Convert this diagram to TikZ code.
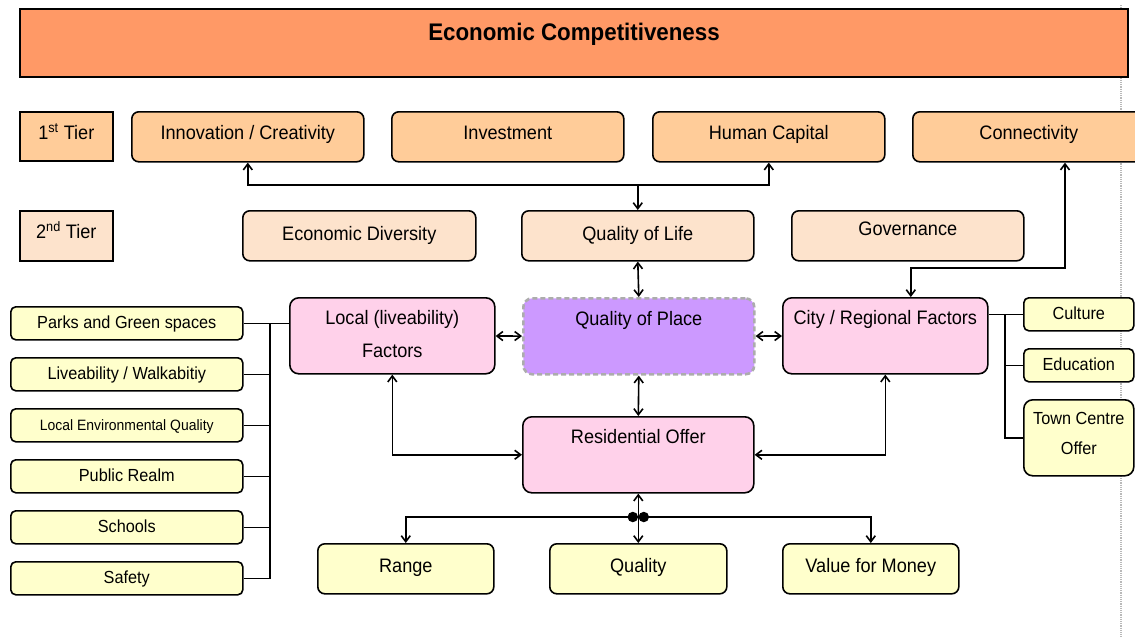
\documentclass[tikz,border=0pt]{standalone}
\usepackage{fontspec}
\setmainfont[FakeStretch=0.93]{Liberation Sans}
\usepackage{tikz}
\usetikzlibrary{arrows.meta}
\usepackage{xcolor}
\definecolor{bannerfill}{HTML}{FF9966}
\definecolor{tierfill}{HTML}{FFCC99}
\definecolor{secondfill}{HTML}{FDE3CC}
\definecolor{factorfill}{HTML}{FFD1EA}
\definecolor{placefill}{HTML}{CC99FF}
\definecolor{offerfill}{HTML}{FFFFCC}

\begin{document}
\begin{tikzpicture}[x=1pt,y=-1pt,
  >={Straight Barb[length=6pt,width=9pt]},
  cell/.style={anchor=north west,inner sep=0pt,draw,line width=1.6pt,font=\fontsize{19.5}{23}\selectfont},
  box/.style={cell,rounded corners=7pt,minimum width=232pt,text height=28pt,text depth=22pt},
  tall/.style={cell,rounded corners=9pt,minimum width=205pt,text height=27pt,text depth=49pt,align=center},
  tier/.style={cell,minimum width=93pt,text height=28pt,text depth=21pt},
  item/.style={cell,rounded corners=5pt,minimum width=232pt,text height=22pt,text depth=11pt,fill=offerfill,font=\fontsize{17.5}{21}\selectfont},
  side/.style={item,minimum width=110pt},
  link/.style={line width=1.6pt},
  dot/.style={circle,inner sep=0pt,minimum size=10.5pt,fill}
  ]
\clip (0,0) rectangle (1135,637);
\draw[gray!55,line width=1.6pt,dash pattern=on 1.2pt off 1pt] (1121,5) -- (1121,637); % page edge
\node[cell,line width=2pt,minimum width=1108pt,text height=31pt,text depth=37pt,fill=bannerfill,
  font=\fontsize{24}{28}\selectfont\bfseries] (econ) at (19,8) {Economic Competitiveness};
% tiers
\node[tier,fill=tierfill] (first) at (19,111) {1\textsuperscript{st} Tier};
\node[tier,fill=secondfill,text depth=22pt] (second) at (19,210) {2\textsuperscript{nd} Tier};
\node[box,fill=tierfill] (innov) at (131,111) {Innovation / Creativity};
\node[box,fill=tierfill] (invest) at (391,111) {Investment};
\node[box,fill=tierfill] (human) at (652,111) {Human Capital};
\node[box,fill=tierfill] (connect) at (912,111) {Connectivity};
\node[box,fill=secondfill,text height=30pt,text depth=20pt,minimum width=233pt] (ecodiv) at (242,210) {Economic Diversity};
\node[box,fill=secondfill,text height=30pt,text depth=20pt] (life) at (521,210) {Quality of Life};
\node[box,fill=secondfill,text height=25pt,text depth=25pt] (gov) at (791,210) {Governance};
% factors
\node[tall,fill=factorfill,text height=60pt,text depth=16pt] (local) at (289,297) {Local (liveability)\\[10pt]Factors};
\node[tall,fill=placefill,minimum width=231pt,draw=gray!65,line width=2.6pt,dash pattern=on 5pt off 3pt] (place) at (522,297) {Quality of Place};
\node[tall,fill=factorfill] (city) at (782,297) {City / Regional Factors};
\node[tall,fill=factorfill,minimum width=231pt] (resi) at (522,416) {Residential Offer};
% offer
\node[box,fill=offerfill,minimum width=176pt,text height=29pt,text depth=21pt] (range) at (317,543) {Range};
\node[box,fill=offerfill,minimum width=177pt,text height=29pt,text depth=21pt] (quality) at (549,543) {Quality};
\node[box,fill=offerfill,minimum width=176pt,text height=29pt,text depth=21pt] (money) at (782,543) {Value for Money};
% local list
\node[item] (parks) at (10,306) {Parks and Green spaces};
\node[item] (walk) at (10,357) {Liveability / Walkabitiy};
\node[item,font=\fontsize{15}{18}\selectfont] (env) at (10,408) {Local Environmental Quality};
\node[item] (realm) at (10,459) {Public Realm};
\node[item] (schools) at (10,510) {Schools};
\node[item] (safety) at (10,561) {Safety};
% city list
\node[side] (culture) at (1023,297) {Culture};
\node[side] (educ) at (1023,348) {Education};
\node[side,rounded corners=9pt,align=center,text height=55pt,text depth=21pt] (town) at (1023,399) {Town Centre\\[9pt]Offer};

\coordinate (top join) at ([yshift=25pt]life.north);
\coordinate (low join) at ([yshift=26pt]quality.north);
\coordinate (bend) at (1065,268);
\coordinate (left bus) at (270,322.5);
\coordinate (right bus) at (1005,313.5);
\draw[link,->] (top join) -- (life.north);
\draw[link,->] (top join) -| (innov.south);
\draw[link,->] (top join) -| (human.south);
\draw[link,<->] (life.south) -- (place.north);
\draw[link,<->] (local) -- (place);
\draw[link,<->] (place) -- (city);
\draw[link,<->] (place.south) -- (resi.north);
\draw[link,<->] (local.south) |- (resi.west);
\draw[link,<->] (city.south) |- (resi.east);
\draw[link,<->] ([xshift=25.5pt]city.north) |- (bend) -- (bend |- connect.south);
\draw[link,<->] (resi.south) -- (quality.north);
\draw[link,->] (low join) -| (range.north);
\draw[link,->] (low join) -| (money.north);
\node[dot] (dot a) at ([xshift=-5.5pt]low join) {};
\node[dot] (dot b) at ([xshift=5.5pt]low join) {};
\draw[link] (parks.east) -- (parks.east -| local.west);
\foreach \n in {walk,env,realm,schools,safety}
  \draw[link] (\n.east) -| (left bus);
\draw[link] (culture.west) -- (culture.west -| city.east);
\foreach \n in {educ,town}
  \draw[link] (\n.west) -| (right bus);
\end{tikzpicture}
\end{document}
